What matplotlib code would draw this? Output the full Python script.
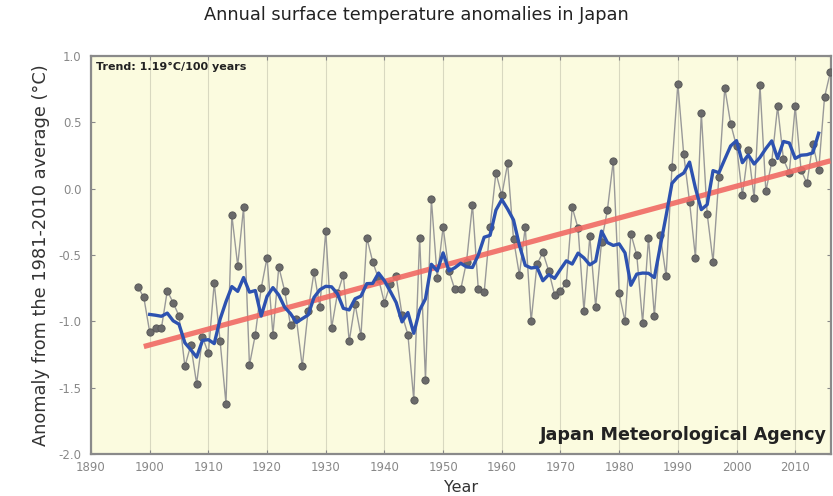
import matplotlib
matplotlib.use("Agg")
import matplotlib.pyplot as plt
import numpy as np
import pandas as pd

years = list(range(1898, 2017))
anomaly = [
    -0.74, -0.82,                                                  # 1898-1899
    -1.08, -1.05, -1.05, -0.77, -0.86, -0.96, -1.34, -1.18, -1.47, -1.12,  # 1900s
    -1.24, -0.71, -1.15, -1.62, -0.20, -0.58, -0.14, -1.33, -1.10, -0.75,  # 1910s
    -0.52, -1.10, -0.59, -0.77, -1.03, -0.98, -1.34, -0.92, -0.63, -0.89,  # 1920s
    -0.32, -1.05, -0.79, -0.65, -1.15, -0.87, -1.11, -0.37, -0.55, -0.68,  # 1930s
    -0.86, -0.72, -0.66, -0.95, -1.10, -1.59, -0.37, -1.44, -0.08, -0.67,  # 1940s
    -0.29, -0.62, -0.76, -0.76, -0.55, -0.12, -0.76, -0.78, -0.29, 0.12,   # 1950s
    -0.05, 0.19, -0.38, -0.65, -0.29, -1.00, -0.57, -0.48, -0.62, -0.80,   # 1960s
    -0.77, -0.71, -0.14, -0.30, -0.92, -0.36, -0.89, -0.40, -0.16, 0.21,   # 1970s
    -0.79, -1.00, -0.34, -0.50, -1.01, -0.37, -0.96, -0.35, -0.66, 0.16,   # 1980s
    0.79, 0.26, -0.10, -0.52, 0.57, -0.19, -0.55, 0.09, 0.76, 0.49,        # 1990s
    0.32, -0.05, 0.29, -0.07, 0.78, -0.02, 0.20, 0.62, 0.22, 0.12,         # 2000s
    0.62, 0.14, 0.04, 0.34, 0.14, 0.69, 0.88,                              # 2010s
]
trend_years = [1899, 2016]
trend_values = [-1.19, 0.21]

xticks = list(range(1890, 2011, 10))
yticks = [1.0, 0.5, 0.0, -0.5, -1.0, -1.5, -2.0]

title = "Annual surface temperature anomalies in Japan"
ylabel = "Anomaly from the 1981-2010 average (\u00b0C)"
xlabel = "Year"
trend_text = "Trend: 1.19\u00b0C/100 years"
source_text = "Japan Meteorological Agency"

series = pd.Series(anomaly, index=years)
running = series.rolling(5, center=True).mean()

fig = plt.figure(figsize=(8.33, 4.96), dpi=100)
ax = fig.add_axes([91/833, 1-454/496, (831-91)/833, (454-56)/496])
ax.set_facecolor("#fbfbdf")

ax.plot(years, anomaly, color="#999999", lw=1.0, marker="o", ms=5.2,
        mfc="#6a6a6a", mec="#5a5a5a", mew=0.7, zorder=3)
ax.plot(trend_years, trend_values, color="#f06a64", lw=3.8, alpha=0.9,
        solid_capstyle="butt", zorder=4)
ax.plot(running.index, running.values, color="#2d52b0", lw=2.4, zorder=5)

ax.set_xlim(1890, 2016.1)
ax.set_ylim(-2.0, 1.0)
ax.set_xticks(xticks)
ax.set_yticks(yticks)
ax.set_yticklabels([f"{v:.1f}" for v in yticks])
ax.grid(axis="x", color="#d8d8c0", lw=0.8)
ax.tick_params(direction="in", top=True, right=True, length=3,
               color="#888888", labelsize=8.5, labelcolor="#888888")
ax.tick_params(axis="y", pad=7)
ax.tick_params(axis="x", pad=5)
for s in ax.spines.values():
    s.set_color("#8a8a8a")
    s.set_linewidth(1.6)

ax.set_ylabel(ylabel, fontsize=12.8, color="#333333", labelpad=6)
ax.set_xlabel(xlabel, fontsize=11.5, color="#333333", labelpad=4)
fig.text(0.5, 1-15/496, title, ha="center", va="center", fontsize=12.8, color="#222222")
ax.text(0.007, 0.985, trend_text, transform=ax.transAxes, ha="left", va="top",
        fontsize=8, fontweight="bold", color="#222222")
ax.text(0.995, 0.025, source_text, transform=ax.transAxes, ha="right", va="bottom",
        fontsize=12.6, fontweight="bold", color="#222222")

fig.savefig("out.png", dpi=100)
